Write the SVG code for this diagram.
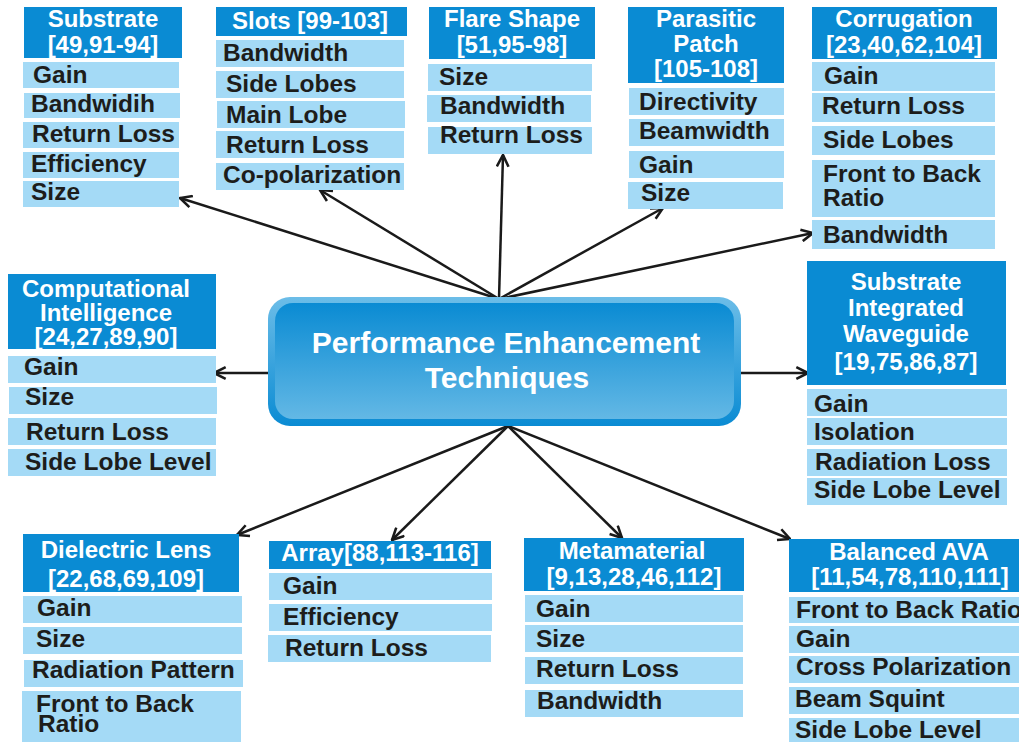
<svg xmlns="http://www.w3.org/2000/svg" width="1019" height="742" viewBox="0 0 1019 742">
<style>
.h{fill:#0a8bd3}
.i{fill:#a4daf6}
.ht{font-family:"Liberation Sans",Arial,sans-serif;font-weight:bold;font-size:24px;fill:#ffffff;text-anchor:middle}
.it{font-family:"Liberation Sans",Arial,sans-serif;font-weight:bold;font-size:24.5px;fill:#1d1d1b}
.ct{font-family:"Liberation Sans",Arial,sans-serif;font-weight:bold;font-size:30px;fill:#ffffff;text-anchor:middle}
.c{stroke:#1a1a1a;stroke-width:2.5;fill:none;marker-end:url(#ah)}
</style>
<defs>
<marker id="ah" viewBox="0 0 12 12" refX="11" refY="6" markerWidth="14" markerHeight="14" markerUnits="userSpaceOnUse" orient="auto">
<path d="M1,1 L11,6 L1,11" fill="none" stroke="#1a1a1a" stroke-width="2.2"/>
</marker>
<linearGradient id="go" x1="0" y1="0" x2="0" y2="1">
<stop offset="0" stop-color="#6cbde8"/>
<stop offset="1" stop-color="#0a8bd3"/>
</linearGradient>
<linearGradient id="gi" x1="0" y1="0" x2="0" y2="1">
<stop offset="0" stop-color="#0a8bd3"/>
<stop offset="1" stop-color="#63b8e5"/>
</linearGradient>
</defs>
<rect width="1019" height="742" fill="#ffffff"/>

<g id="connectors">
<line class="c" x1="499" y1="299" x2="180" y2="198"/>
<line class="c" x1="499" y1="299" x2="320" y2="190"/>
<line class="c" x1="499" y1="299" x2="503" y2="155"/>
<line class="c" x1="499" y1="299" x2="663" y2="208"/>
<line class="c" x1="499" y1="299" x2="813" y2="233"/>
<line class="c" x1="268" y1="373" x2="214" y2="373"/>
<line class="c" x1="741" y1="373" x2="808" y2="373"/>
<line class="c" x1="508" y1="426" x2="237" y2="535"/>
<line class="c" x1="508" y1="426" x2="392" y2="540"/>
<line class="c" x1="508" y1="426" x2="622" y2="538"/>
<line class="c" x1="508" y1="426" x2="790" y2="539"/>
</g>

<g id="center">
<rect x="268" y="297" width="473" height="129" rx="22" fill="url(#go)"/>
<rect x="275" y="303" width="459" height="116" rx="18" fill="url(#gi)"/>
<text class="ct" x="506" y="353">Performance Enhancement</text>
<text class="ct" x="507" y="388">Techniques</text>
</g>

<g id="substrate">
<rect class="h" x="24" y="7" width="158" height="51"/>
<text class="ht" x="103" y="27">Substrate</text>
<text class="ht" x="103" y="53">[49,91-94]</text>
<rect class="i" x="23" y="62" width="156" height="26"/>
<rect class="i" x="24" y="93" width="156" height="25"/>
<rect class="i" x="23" y="122" width="156" height="26"/>
<rect class="i" x="23" y="152" width="156" height="26"/>
<rect class="i" x="23" y="181" width="156" height="26"/>
<text class="it" x="33" y="83">Gain</text>
<text class="it" x="31" y="112">Bandwidih</text>
<text class="it" x="32" y="142">Return Loss</text>
<text class="it" x="31" y="172">Efficiency</text>
<text class="it" x="31" y="200">Size</text>
</g>

<g id="slots">
<rect class="h" x="216" y="7" width="191" height="29"/>
<text class="ht" x="310" y="29">Slots [99-103]</text>
<rect class="i" x="216" y="40" width="188" height="27"/>
<rect class="i" x="216" y="71" width="188" height="27"/>
<rect class="i" x="217" y="101" width="188" height="27"/>
<rect class="i" x="216" y="131" width="188" height="27"/>
<rect class="i" x="216" y="163" width="188" height="27"/>
<text class="it" x="223" y="61">Bandwidth</text>
<text class="it" x="226" y="92">Side Lobes</text>
<text class="it" x="226" y="123">Main Lobe</text>
<text class="it" x="226" y="153">Return Loss</text>
<text class="it" x="223" y="183">Co-polarization</text>
</g>

<g id="flare">
<rect class="h" x="429" y="7" width="166" height="52"/>
<text class="ht" x="512" y="27">Flare Shape</text>
<text class="ht" x="512" y="53">[51,95-98]</text>
<rect class="i" x="428" y="64" width="164" height="27"/>
<rect class="i" x="427" y="95" width="164" height="27"/>
<rect class="i" x="428" y="127" width="164" height="27"/>
<text class="it" x="439" y="85">Size</text>
<text class="it" x="440" y="114">Bandwidth</text>
<text class="it" x="440" y="143">Return Loss</text>
</g>

<g id="parasitic">
<rect class="h" x="628" y="7" width="156" height="76"/>
<text class="ht" x="706" y="27">Parasitic</text>
<text class="ht" x="706" y="52">Patch</text>
<text class="ht" x="706" y="77">[105-108]</text>
<rect class="i" x="629" y="88" width="155" height="27"/>
<rect class="i" x="629" y="119" width="155" height="27"/>
<rect class="i" x="629" y="151" width="155" height="27"/>
<rect class="i" x="628" y="182" width="155" height="27"/>
<text class="it" x="639" y="110">Directivity</text>
<text class="it" x="639" y="139">Beamwidth</text>
<text class="it" x="639" y="173">Gain</text>
<text class="it" x="641" y="201">Size</text>
</g>

<g id="corrugation">
<rect class="h" x="812" y="7" width="185" height="52"/>
<text class="ht" x="904" y="27">Corrugation</text>
<text class="ht" x="904" y="53">[23,40,62,104]</text>
<rect class="i" x="812" y="62" width="183" height="29"/>
<rect class="i" x="812" y="93" width="183" height="29"/>
<rect class="i" x="812" y="126" width="183" height="29"/>
<rect class="i" x="812" y="160" width="183" height="57"/>
<rect class="i" x="812" y="220" width="183" height="29"/>
<text class="it" x="824" y="84">Gain</text>
<text class="it" x="822" y="114">Return Loss</text>
<text class="it" x="823" y="148">Side Lobes</text>
<text class="it" x="823" y="182">Front to Back</text>
<text class="it" x="823" y="206">Ratio</text>
<text class="it" x="823" y="243">Bandwidth</text>
</g>

<g id="computational">
<rect class="h" x="8" y="274" width="208" height="75"/>
<text class="ht" x="106" y="297">Computational</text>
<text class="ht" x="106" y="321">Intelligence</text>
<text class="ht" x="106" y="345">[24,27,89,90]</text>
<rect class="i" x="8" y="356" width="208" height="27"/>
<rect class="i" x="9" y="387" width="208" height="27"/>
<rect class="i" x="8" y="418" width="208" height="27"/>
<rect class="i" x="8" y="449" width="208" height="27"/>
<text class="it" x="24" y="375">Gain</text>
<text class="it" x="25" y="405">Size</text>
<text class="it" x="26" y="440">Return Loss</text>
<text class="it" x="25" y="470">Side Lobe Level</text>
</g>

<g id="siw">
<rect class="h" x="807" y="261" width="199" height="124"/>
<text class="ht" x="906" y="290">Substrate</text>
<text class="ht" x="906" y="316">Integrated</text>
<text class="ht" x="906" y="342">Waveguide</text>
<text class="ht" x="906" y="370">[19,75,86,87]</text>
<rect class="i" x="807" y="389" width="200" height="27"/>
<rect class="i" x="807" y="418" width="200" height="27"/>
<rect class="i" x="807" y="449" width="200" height="27"/>
<rect class="i" x="807" y="478" width="200" height="27"/>
<text class="it" x="814" y="412">Gain</text>
<text class="it" x="814" y="440">Isolation</text>
<text class="it" x="815" y="470">Radiation Loss</text>
<text class="it" x="814" y="498">Side Lobe Level</text>
</g>

<g id="dielectric">
<rect class="h" x="23" y="534" width="216" height="58"/>
<text class="ht" x="126" y="558">Dielectric Lens</text>
<text class="ht" x="126" y="587">[22,68,69,109]</text>
<rect class="i" x="23" y="596" width="219" height="27"/>
<rect class="i" x="23" y="627" width="219" height="27"/>
<rect class="i" x="24" y="660" width="219" height="27"/>
<rect class="i" x="22" y="691" width="219" height="51"/>
<text class="it" x="37" y="616">Gain</text>
<text class="it" x="36" y="647">Size</text>
<text class="it" x="32" y="678">Radiation Pattern</text>
<text class="it" x="36" y="712">Front to Back</text>
<text class="it" x="38" y="732">Ratio</text>
</g>

<g id="array">
<rect class="h" x="269" y="541" width="222" height="28"/>
<text class="ht" x="380" y="561">Array[88,113-116]</text>
<rect class="i" x="269" y="573" width="223" height="27"/>
<rect class="i" x="269" y="604" width="223" height="27"/>
<rect class="i" x="268" y="635" width="223" height="27"/>
<text class="it" x="283" y="594">Gain</text>
<text class="it" x="283" y="625">Efficiency</text>
<text class="it" x="285" y="656">Return Loss</text>
</g>

<g id="metamaterial">
<rect class="h" x="524" y="538" width="220" height="53"/>
<text class="ht" x="632" y="559">Metamaterial</text>
<text class="ht" x="634" y="585">[9,13,28,46,112]</text>
<rect class="i" x="525" y="595" width="218" height="27"/>
<rect class="i" x="525" y="625" width="218" height="27"/>
<rect class="i" x="525" y="657" width="218" height="27"/>
<rect class="i" x="525" y="690" width="218" height="27"/>
<text class="it" x="536" y="617">Gain</text>
<text class="it" x="536" y="647">Size</text>
<text class="it" x="536" y="677">Return Loss</text>
<text class="it" x="537" y="709">Bandwidth</text>
</g>

<g id="balanced">
<rect class="h" x="789" y="539" width="235" height="53"/>
<text class="ht" x="909" y="560">Balanced AVA</text>
<text class="ht" x="910" y="585">[11,54,78,110,111]</text>
<rect class="i" x="789" y="597" width="235" height="26"/>
<rect class="i" x="789" y="626" width="235" height="27"/>
<rect class="i" x="789" y="656" width="235" height="27"/>
<rect class="i" x="789" y="687" width="235" height="27"/>
<rect class="i" x="789" y="718" width="235" height="26"/>
<text class="it" x="796" y="618">Front to Back Ratio</text>
<text class="it" x="796" y="647">Gain</text>
<text class="it" x="796" y="675">Cross Polarization</text>
<text class="it" x="795" y="707">Beam Squint</text>
<text class="it" x="795" y="738">Side Lobe Level</text>
</g>
</svg>
